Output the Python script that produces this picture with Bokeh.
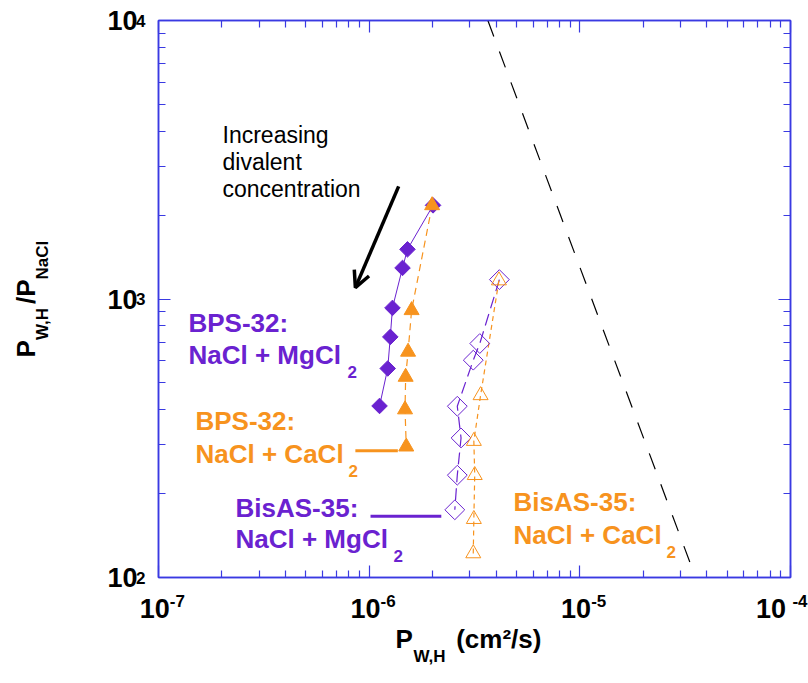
import math

from bokeh.plotting import figure
from bokeh.models import (Label, Arrow, OpenHead, LogAxis, FixedTicker,
                          CustomJSTickFormatter)
from bokeh.embed import file_html
from bokeh.resources import INLINE

# ---------------------------------------------------------------------------
# Data: water/salt permeability selectivity vs. water permeability
# ---------------------------------------------------------------------------
# BPS-32, NaCl + MgCl2 (filled diamonds)
bps_mg_x = [2.01e-6, 1.52e-6, 1.44e-6, 1.29e-6, 1.26e-6, 1.225e-6, 1.12e-6]
bps_mg_y = [2169, 1508, 1293, 929, 731, 563, 413]
# BPS-32, NaCl + CaCl2 (filled triangles)
bps_ca_x = [1.99e-6, 1.59e-6, 1.53e-6, 1.49e-6, 1.48e-6, 1.50e-6]
bps_ca_y = [2169, 911, 646, 525, 401, 295]
# BisAS-35, NaCl + MgCl2 (open diamonds)
bis_mg_x = [4.15e-6, 3.35e-6, 3.12e-6, 2.62e-6, 2.73e-6, 2.62e-6, 2.55e-6]
bis_mg_y = [1174, 692, 603, 412, 317, 233, 175]
# BisAS-35, NaCl + CaCl2 (open triangles)
bis_ca_x = [4.13e-6, 3.38e-6, 3.14e-6, 3.17e-6, 3.14e-6, 3.12e-6]
bis_ca_y = [1165, 451, 309, 233, 162, 122]
# upper-bound trade-off line
bound_x = [3.66e-6, 3.35e-5]
bound_y = [1e4, 112]

# axis ticks and their labels (mantissa and exponent drawn separately)
x_ticks = [1e-7, 1e-6, 1e-5, 1e-4]
x_tick_base = ["10", "10", "10", "10"]
x_tick_exp = ["-7", "-6", "-5", "-4"]
y_ticks = [1e2, 1e3, 1e4]
y_tick_base = ["10", "10", "10"]
y_tick_exp = ["2", "3", "4"]

# annotation geometry (data units)
arrow_start = (1.38e-6, 2538)
arrow_end = (8.6e-7, 1099)
leader_ca = ([8.6e-7, 1.368e-6], [285, 285])
leader_mg = ([1.015e-6, 2.2e-6], [166, 166])

PURPLE = "#6a22d0"
ORANGE = "#f7931e"
BLUE = "#3a3ae2"
FONT = "Liberation Sans"
NB = "\u00a0"  # non-breaking space, used as fixed-width padding

W, H = 808, 683
FL, FR, FT, FB = 158, 790, 20, 577  # frame edges in page pixels

p = figure(width=W, height=H, x_axis_type="log", y_axis_type="log",
           x_range=(1e-7, 1e-4), y_range=(1e2, 1e4),
           output_backend="svg", toolbar_location=None,
           min_border_left=FL, min_border_right=W - FR,
           min_border_top=FT, min_border_bottom=H - FB)
p.background_fill_color = "white"
p.border_fill_color = "white"
p.outline_line_color = BLUE
p.outline_line_width = 1.5
p.grid.visible = False

x_minor = [m * 10.0 ** e for e in (-7, -6, -5) for m in range(2, 10)]
y_minor = [m * 10.0 ** e for e in (2, 3) for m in range(2, 10)]

LABEL_JS = """
for (let i = 0; i < tick_vals.length; i++) {
    if (Math.abs(Math.log10(tick_vals[i]) - Math.log10(tick)) < 1e-6) return tick_text[i];
}
return "";
"""


def style_axis(ax, ticks, minors, labels=None, standoff=0, size=27,
               draw_ticks=True):
    ax.ticker = FixedTicker(ticks=ticks, minor_ticks=minors if draw_ticks else [])
    if labels is None:
        ax.formatter = CustomJSTickFormatter(code="return ''")
    else:
        ax.formatter = CustomJSTickFormatter(
            args=dict(tick_vals=ticks, tick_text=labels), code=LABEL_JS)
    ax.major_tick_in = 12 if draw_ticks else 0
    ax.major_tick_out = 0
    ax.minor_tick_in = 7 if draw_ticks else 0
    ax.minor_tick_out = 0
    ax.major_label_standoff = standoff
    ax.major_label_text_font = FONT
    ax.major_label_text_font_size = f"{size}px"
    ax.major_label_text_font_style = "bold"
    ax.major_label_text_color = "black"
    if draw_ticks:
        ax.axis_line_color = BLUE
        ax.axis_line_width = 1.5
        ax.major_tick_line_color = BLUE
        ax.minor_tick_line_color = BLUE
        ax.major_tick_line_width = 1.2
        ax.minor_tick_line_width = 1.2
    else:
        ax.axis_line_color = None
        ax.major_tick_line_color = None
        ax.minor_tick_line_color = None


# exponents sit on the inner axes (with the tick marks), mantissas on outer ones
last = len(x_ticks) - 1
x_exp_text = [NB * (4 if i == last else 8) + e for i, e in enumerate(x_tick_exp)]
x_base_text = [b + NB * (3 if i == last else 1) for i, b in enumerate(x_tick_base)]
style_axis(p.xaxis[0], x_ticks, x_minor, x_exp_text, standoff=14, size=17)
style_axis(p.yaxis[0], y_ticks, y_minor, y_tick_exp, standoff=13, size=17)

x_base_ax = LogAxis()
y_base_ax = LogAxis()
style_axis(x_base_ax, x_ticks, x_minor, x_base_text, standoff=-20, draw_ticks=False)
style_axis(y_base_ax, y_ticks, y_minor, y_tick_base, standoff=-4, draw_ticks=False)
p.add_layout(x_base_ax, "below")
p.add_layout(y_base_ax, "left")

top_ax = LogAxis()
right_ax = LogAxis()
style_axis(top_ax, x_ticks, x_minor)
style_axis(right_ax, y_ticks, y_minor)
p.add_layout(top_ax, "above")
p.add_layout(right_ax, "right")

# trade-off upper bound
p.line(bound_x, bound_y, line_color="black", line_width=1.2, line_dash="17 16")

# series connecting lines
p.line(bps_mg_x, bps_mg_y, line_color=PURPLE, line_width=1)
p.line(bps_ca_x, bps_ca_y, line_color=ORANGE, line_width=1.2, line_dash="7 5")
p.line(bis_mg_x, bis_mg_y, line_color=PURPLE, line_width=1.2, line_dash="12 6")
p.line(bis_ca_x, bis_ca_y, line_color=ORANGE, line_width=1.2, line_dash="5 4")

# markers
p.scatter(bis_mg_x, bis_mg_y, marker="square", angle=math.pi / 4, size=14,
          fill_color=None, line_color=PURPLE, line_width=1)
p.scatter(bis_ca_x, bis_ca_y, marker="triangle", size=15,
          fill_color=None, line_color=ORANGE, line_width=1)
p.scatter(bps_mg_x, bps_mg_y, marker="square", angle=math.pi / 4, size=11,
          fill_color=PURPLE, line_color=PURPLE)
p.scatter(bps_ca_x, bps_ca_y, marker="triangle", size=15,
          fill_color=ORANGE, line_color=ORANGE)

# leader lines from the labels to their series
p.line(leader_ca[0], leader_ca[1], line_color=ORANGE, line_width=3)
p.line(leader_mg[0], leader_mg[1], line_color=PURPLE, line_width=3)

# arrow
p.add_layout(Arrow(x_start=arrow_start[0], y_start=arrow_start[1],
                   x_end=arrow_end[0], y_end=arrow_end[1],
                   line_width=3.5, line_color="black",
                   end=OpenHead(size=16, line_width=3.5, line_color="black")))

BASE_SHIFT = 0.38  # baseline correction, as a fraction of the font size


def put(text, px, py, size, color="black", style="bold", align="left",
        angle=0.0, place="center"):
    """Place text with its baseline start at page pixel (px, py)."""
    dx, dy = px - FL, FB - py
    shift = BASE_SHIFT * size
    if angle:
        dx -= shift
    else:
        dy += shift
    lab = Label(x=1e-7, y=1e2, x_offset=dx, y_offset=dy,
                text=text, text_font=FONT, text_font_size=f"{size}px",
                text_font_style=style, text_color=color,
                text_align=align, text_baseline="alphabetic", angle=angle)
    p.add_layout(lab, place)


# axis titles (outside the frame, so they live in the side panels)
put("P" + NB * 6 + "(cm\u00b2/s)", 395, 648, 26, place="below")
put("W,H", 413, 662, 17, place="left")

rot = math.pi / 2
put("P" + NB * 5 + "/P", 35, 357, 26, angle=rot, place="left")
put("W,H" + NB * 6 + "NaCl", 48, 339.5, 17, angle=rot, place="left")

# arrow caption
put("Increasing", 222, 143, 23, style="normal")
put("divalent", 222, 170, 23, style="normal")
put("concentration", 222, 197, 23, style="normal")

# series labels
put("BPS-32:", 188, 332, 26, color=PURPLE)
put("NaCl + MgCl", 188, 364, 26, color=PURPLE)
put("2", 347, 378, 17, color=PURPLE)

put("BPS-32:", 195, 430, 26, color=ORANGE)
put("NaCl + CaCl", 195, 463, 26, color=ORANGE)
put("2", 348, 477, 17, color=ORANGE)

put("BisAS-35:", 235, 517, 26, color=PURPLE)
put("NaCl + MgCl", 235, 548, 26, color=PURPLE)
put("2", 393, 562, 17, color=PURPLE)

put("BisAS-35:", 513, 511, 26, color=ORANGE)
put("NaCl + CaCl", 513, 544, 26, color=ORANGE)
put("2", 666, 558, 17, color=ORANGE)

open("out.html", "w").write(file_html(p, INLINE))
